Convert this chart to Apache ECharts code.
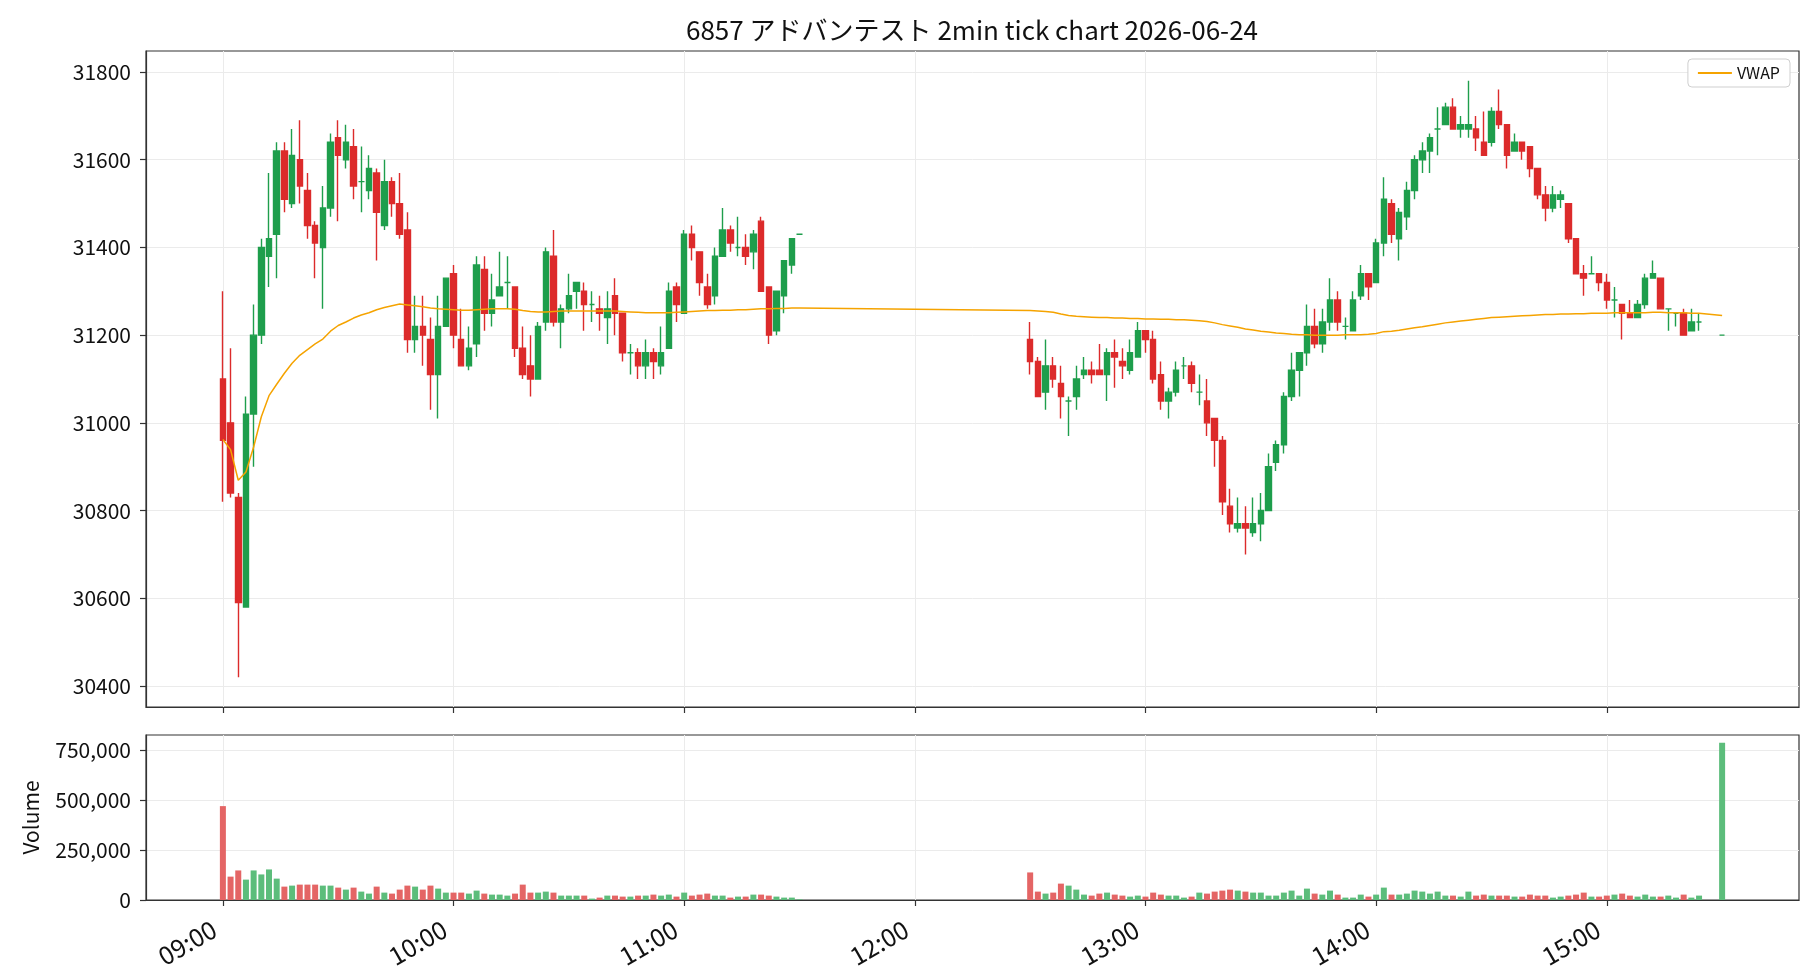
<!DOCTYPE html>
<html>
<head>
<meta charset="utf-8">
<script src="https://cdn.jsdelivr.net/npm/echarts@6/dist/echarts.min.js"></script>
<style>
html, body { margin: 0; padding: 0; background: #fff; }
#chart { width: 1820px; height: 980px; }
</style>
</head>
<body>
<div id="chart"></div>
<script>
// trading sessions (2 min bars), 15:30 = closing auction
var sessions = [['09:00', '11:30'], ['12:30', '15:24'], ['15:30', '15:30']];
var axisStart = '08:40', axisEnd = '15:50';

var opens = [
31100,31000,30830,30580,31020,31200,31380,31430,31620,31500,
31600,31530,31450,31400,31490,31650,31600,31630,31550,31530,
31570,31450,31550,31500,31440,31190,31220,31190,31110,31220,
31340,31190,31130,31180,31350,31250,31290,31320,31310,31170,
31130,31100,31230,31380,31230,31260,31300,31300,31270,31260,
31240,31290,31250,31160,31160,31130,31160,31130,31170,31310,
31250,31430,31390,31310,31290,31380,31440,31400,31400,31390,
31460,31310,31210,31290,31360,31430,
31190,31140,31070,31130,31090,31050,31060,31110,31120,31120,
31110,31160,31140,31120,31150,31210,31190,31110,31050,31070,
31130,31130,31070,31050,31010,30960,30810,30760,30770,30750,
30770,30800,30910,30950,31060,31120,31160,31220,31180,31230,
31280,31220,31210,31290,31340,31320,31410,31500,31420,31470,
31530,31600,31620,31670,31680,31720,31670,31670,31670,31640,
31640,31710,31680,31620,31640,31630,31580,31520,31490,31510,
31500,31420,31340,31340,31340,31320,31280,31270,31250,31240,
31270,31330,31330,31260,31250,31250,31210,31230,31200
];
var closes = [
30960,30840,30590,31020,31200,31400,31420,31620,31510,31610,
31540,31450,31410,31490,31640,31610,31640,31540,31550,31580,
31480,31550,31500,31430,31190,31220,31200,31110,31220,31330,
31200,31130,31170,31360,31250,31280,31310,31320,31170,31110,
31100,31220,31390,31230,31260,31290,31320,31270,31270,31250,
31260,31250,31160,31160,31130,31160,31140,31160,31300,31270,
31430,31400,31320,31270,31380,31440,31410,31400,31380,31430,
31300,31200,31300,31370,31420,31430,
31140,31060,31130,31100,31060,31050,31100,31120,31110,31110,
31160,31150,31130,31160,31210,31190,31100,31050,31070,31120,
31130,31090,31070,31000,30960,30820,30770,30770,30760,30770,
30800,30900,30950,31060,31120,31160,31220,31180,31230,31280,
31230,31220,31280,31340,31310,31410,31510,31430,31480,31530,
31600,31620,31650,31670,31720,31670,31680,31680,31650,31610,
31710,31680,31610,31640,31620,31580,31520,31490,31520,31520,
31420,31340,31330,31340,31320,31280,31280,31250,31240,31270,
31330,31340,31260,31260,31250,31200,31230,31230,31200
];
var lows = [
30820,30830,30420,30580,30900,31180,31310,31330,31480,31490,
31500,31420,31330,31260,31470,31460,31580,31510,31480,31510,
31370,31440,31470,31420,31160,31160,31130,31030,31010,31220,
31170,31130,31120,31150,31210,31220,31290,31260,31150,31100,
31060,31100,31210,31220,31170,31250,31260,31210,31230,31210,
31180,31200,31140,31110,31100,31100,31100,31110,31170,31230,
31250,31370,31290,31260,31270,31380,31390,31380,31360,31350,
31300,31180,31200,31250,31340,31430,
31110,31060,31030,31080,31010,30970,31030,31100,31090,31110,
31050,31080,31100,31110,31150,31160,31090,31030,31010,31060,
31100,31070,31040,30970,30900,30790,30750,30750,30700,30740,
30730,30800,30890,30930,31050,31060,31130,31170,31160,31210,
31210,31190,31210,31280,31280,31320,31380,31410,31370,31440,
31510,31570,31570,31610,31680,31670,31650,31650,31620,31610,
31630,31670,31580,31620,31600,31560,31510,31460,31480,31490,
31410,31340,31290,31340,31300,31260,31240,31190,31240,31240,
31260,31330,31260,31210,31220,31200,31210,31210,31200
];
var highs = [
31300,31170,30840,31060,31270,31420,31570,31640,31640,31670,
31690,31570,31460,31540,31660,31690,31680,31670,31630,31610,
31580,31600,31560,31570,31480,31290,31290,31240,31290,31330,
31360,31260,31220,31380,31380,31340,31390,31380,31310,31220,
31200,31230,31400,31440,31270,31340,31320,31320,31300,31290,
31300,31330,31250,31180,31170,31190,31170,31220,31320,31320,
31440,31450,31390,31340,31400,31490,31450,31470,31430,31440,
31470,31310,31300,31370,31420,31430,
31230,31150,31190,31150,31130,31060,31130,31150,31140,31180,
31170,31190,31170,31190,31230,31210,31210,31140,31080,31140,
31150,31140,31110,31100,31010,30970,30850,30830,30810,30830,
30840,30930,30960,31070,31160,31160,31270,31260,31260,31330,
31300,31240,31300,31360,31340,31420,31560,31510,31490,31550,
31610,31640,31660,31720,31730,31740,31700,31780,31700,31710,
31720,31760,31680,31660,31640,31630,31580,31540,31540,31530,
31500,31420,31360,31380,31340,31340,31310,31270,31280,31280,
31340,31370,31330,31260,31250,31260,31260,31250,31200
];
var volumes = [
470000,117000,148000,102000,148000,128000,153000,107000,67000,72000,
77000,77000,77000,72000,72000,62000,52000,62000,42000,32000,
67000,37000,32000,52000,72000,67000,52000,72000,57000,37000,
37000,37000,32000,47000,32000,27000,27000,22000,32000,77000,
37000,37000,42000,37000,22000,22000,22000,22000,7000,12000,
22000,22000,17000,17000,22000,22000,27000,22000,27000,17000,
37000,22000,27000,32000,22000,22000,12000,17000,17000,27000,
27000,22000,17000,12000,12000,3000,
138000,42000,32000,37000,82000,72000,52000,27000,22000,32000,
37000,27000,22000,17000,22000,17000,37000,27000,22000,22000,
12000,17000,37000,32000,42000,47000,52000,47000,42000,37000,
37000,22000,22000,37000,47000,22000,57000,32000,27000,47000,
27000,12000,12000,27000,17000,27000,62000,27000,27000,32000,
47000,42000,32000,42000,22000,22000,17000,42000,22000,27000,
22000,22000,22000,17000,17000,27000,22000,22000,12000,17000,
22000,27000,37000,17000,17000,22000,27000,32000,22000,17000,
27000,17000,17000,22000,12000,27000,12000,22000,787000
];
var vwap = [
30962,30939,30869,30888,30945,31014,31062,31088,31113,31136,
31154,31167,31180,31191,31209,31222,31230,31239,31246,31251,
31258,31263,31267,31271,31269,31267,31265,31262,31260,31259,
31258,31257,31257,31258,31259,31260,31260,31260,31259,31256,
31254,31253,31253,31254,31255,31255,31255,31255,31255,31255,
31255,31255,31254,31253,31252,31251,31251,31251,31251,31252,
31253,31254,31255,31256,31256,31257,31257,31258,31258,31259,
31260,31260,31261,31261,31262,31262,
31256,31255,31254,31252,31248,31245,31243,31242,31241,31240,
31240,31239,31239,31238,31238,31237,31237,31236,31236,31235,
31235,31234,31233,31231,31228,31224,31221,31218,31214,31212,
31209,31207,31205,31204,31202,31201,31201,31200,31200,31200,
31200,31201,31201,31201,31202,31204,31208,31209,31211,31214,
31217,31219,31222,31225,31228,31230,31232,31234,31236,31238,
31240,31241,31242,31243,31244,31245,31246,31247,31247,31248,
31248,31249,31249,31250,31250,31250,31251,31251,31251,31251,
31251,31252,31252,31251,31251,31251,31250,31250,31245
];
var priceTicks = [30400, 30600, 30800, 31000, 31200, 31400, 31600, 31800];
var volumeTicks = [0, 250000, 500000, 750000];

var UP = '#1e9e4c', DOWN = '#dc2b2b';
var UP_VOL = '#5cbd7b', DOWN_VOL = '#e46565';
var FONT = '"Noto Sans CJK JP", "Noto Sans", sans-serif';

function toMin(s) { var p = s.split(':'); return (+p[0]) * 60 + (+p[1]); }
function fmt(m) {
    var h = Math.floor(m / 60), mm = m % 60;
    return (h < 10 ? '0' : '') + h + ':' + (mm < 10 ? '0' : '') + mm;
}

var times = [];
sessions.forEach(function (s) {
    for (var m = toMin(s[0]); m <= toMin(s[1]); m += 2) times.push(fmt(m));
});
var slots = [];
for (var m = toMin(axisStart); m <= toMin(axisEnd); m += 2) slots.push(fmt(m));

var candleData = [], volData = [], vwapData = [];
slots.forEach(function (t) {
    var i = times.indexOf(t);
    if (i < 0) {
        candleData.push('-'); volData.push('-'); vwapData.push(null);
        return;
    }
    candleData.push([opens[i], closes[i], lows[i], highs[i]]);
    volData.push({ value: volumes[i], itemStyle: { color: closes[i] >= opens[i] ? UP_VOL : DOWN_VOL } });
    vwapData.push(vwap[i]);
});

var onHour = function (idx, val) { return val.slice(3) === '00'; };
var gridLine = { show: true, interval: onHour, lineStyle: { color: '#ebebeb', width: 1 } };

var myChart = echarts.init(document.getElementById('chart'));
option = {
    backgroundColor: '#fff',
    animation: false,
    textStyle: { fontFamily: FONT },
    // title centred over the plot area, not over the canvas
    graphic: [{
        type: 'text',
        x: 972,
        y: 30,
        style: {
            text: '6857 アドバンテスト 2min tick chart 2026-06-24',
            align: 'center',
            verticalAlign: 'middle',
            fill: '#111',
            font: '26px "Noto Sans CJK JP", sans-serif'
        }
    }],
    legend: {
        right: 30,
        top: 59,
        data: [{ name: 'VWAP', icon: 'rect' }],
        itemWidth: 34,
        itemHeight: 2,
        itemGap: 10,
        padding: [6, 10, 6, 10],
        borderColor: '#cfcfcf',
        borderWidth: 1,
        borderRadius: 4,
        backgroundColor: '#fff',
        textStyle: { fontSize: 16, color: '#111', fontFamily: FONT }
    },
    grid: [
        { left: 146, top: 51, width: 1653, height: 656, show: true, borderColor: '#333', borderWidth: 1.2 },
        { left: 146, top: 735, width: 1653, height: 165, show: true, borderColor: '#333', borderWidth: 1.2 }
    ],
    xAxis: [{
        type: 'category',
        gridIndex: 0,
        data: slots,
        boundaryGap: false,
        axisLine: { lineStyle: { color: '#333', width: 1.2 } },
        axisTick: { interval: onHour, length: 6, lineStyle: { color: '#333', width: 1.2 } },
        axisLabel: { show: false },
        splitLine: gridLine
    }, {
        type: 'category',
        gridIndex: 1,
        data: slots,
        boundaryGap: false,
        axisLine: { lineStyle: { color: '#333', width: 1.2 } },
        axisTick: { interval: onHour, length: 6, lineStyle: { color: '#333', width: 1.2 } },
        axisLabel: { interval: onHour, rotate: 30, fontSize: 25, color: '#111', margin: 22, padding: [0, 10, 0, 0] },
        splitLine: gridLine
    }],
    yAxis: [{
        type: 'value',
        gridIndex: 0,
        min: 30352,
        max: 31848,
        axisLine: { show: true, lineStyle: { color: '#333', width: 1.2 } },
        axisTick: { show: true, customValues: priceTicks, length: 6, lineStyle: { color: '#333', width: 1.2 } },
        axisLabel: {
            customValues: priceTicks, fontSize: 21, color: '#111', margin: 15,
            formatter: function (v) { return String(v); }
        },
        splitLine: { show: true, lineStyle: { color: '#ebebeb', width: 1 } }
    }, {
        type: 'value',
        gridIndex: 1,
        min: 0,
        max: 826000,
        name: 'Volume',
        nameLocation: 'middle',
        nameGap: 104,
        nameTextStyle: { fontSize: 21, color: '#111', fontFamily: FONT },
        axisLine: { show: true, lineStyle: { color: '#333', width: 1.2 } },
        axisTick: { show: true, customValues: volumeTicks, length: 6, lineStyle: { color: '#333', width: 1.2 } },
        axisLabel: {
            customValues: volumeTicks, fontSize: 21, color: '#111', margin: 15,
            formatter: function (v) { return v.toLocaleString('en-US'); }
        },
        splitLine: { show: true, lineStyle: { color: '#ebebeb', width: 1 } }
    }],
    series: [{
        name: 'price',
        type: 'candlestick',
        xAxisIndex: 0,
        yAxisIndex: 0,
        barWidth: 6,
        data: candleData,
        itemStyle: {
            color: UP, color0: DOWN,
            borderColor: UP, borderColor0: DOWN, borderColorDoji: UP,
            borderWidth: 1.4
        }
    }, {
        name: 'VWAP',
        type: 'line',
        xAxisIndex: 0,
        yAxisIndex: 0,
        data: vwapData,
        connectNulls: true,
        showSymbol: false,
        symbol: 'none',
        lineStyle: { color: '#f5a300', width: 1.5 },
        itemStyle: { color: '#f5a300' }
    }, {
        name: 'volume',
        type: 'bar',
        xAxisIndex: 1,
        yAxisIndex: 1,
        barWidth: 6,
        data: volData
    }]
};
myChart.setOption(option);
</script>
</body>
</html>
